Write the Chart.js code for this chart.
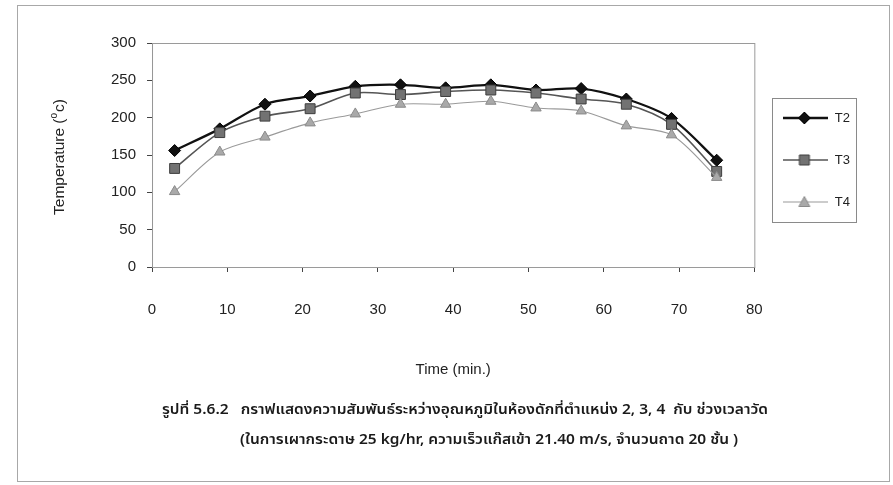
<!DOCTYPE html>
<html>
<head>
<meta charset="utf-8">
<script src="https://cdn.jsdelivr.net/npm/chart.js@4/dist/chart.umd.min.js"></script>
<style>
  html, body { margin: 0; padding: 0; background: #fff; }
  #wrap { position: relative; width: 893px; height: 485px; overflow: hidden; }
  #frame { position: absolute; left: 17px; top: 5px; width: 873px; height: 477px; border: 1px solid #a8a8a8; box-sizing: border-box; }
  canvas { position: absolute; left: 0; top: 0; }
  .cap { position: absolute; font-family: "Noto Sans Thai", "Noto Sans", "Liberation Sans", sans-serif; font-size: 13.5px; font-weight: 600; color: #1a1a1a; white-space: nowrap; line-height: 18px; height: 18px; transform-origin: 0 50%; }
</style>
</head>
<body>
<div id="wrap">
  <div id="frame"></div>
  <canvas id="c" width="893" height="485"></canvas>
  <div class="cap" id="cap1" data-w="606" style="left:162px; top:401px;">รูปที่ 5.6.2&nbsp;&nbsp; กราฟแสดงความสัมพันธ์ระหว่างอุณหภูมิในห้องดักที่ตำแหน่ง 2, 3, 4&nbsp; กับ ช่วงเวลาวัด</div>
  <div class="cap" id="cap2" data-w="498" style="left:240px; top:431px;">(ในการเผากระดาษ 25 kg/hr, ความเร็วแก๊สเข้า 21.40 m/s, จำนวนถาด 20 ชั้น )</div>
</div>
<script>
// Measurement times (min.)
const timeMin = [3, 9, 15, 21, 27, 33, 39, 45, 51, 57, 63, 69, 75];
// Trap-chamber temperatures (°C) at positions 2, 3 and 4
const t2 = [156, 185, 218, 229, 242, 244, 240, 244, 237, 239, 225, 199, 143];
const t3 = [132, 180, 202, 212, 233, 231, 235, 237, 233, 225, 218, 191, 128];
const t4 = [101, 154, 174, 193, 205, 218, 218, 222, 213, 209, 189, 177, 120];
const seriesNames = ['T2', 'T3', 'T4'];
const xTicks = [0, 10, 20, 30, 40, 50, 60, 70, 80];
const yTicks = [0, 50, 100, 150, 200, 250, 300];

const FONT = '"Liberation Sans", Arial, sans-serif';

const styles = [
  { line: '#111111', fill: '#111111', edge: '#000000', width: 2.3, marker: 'rectRot', r: 6 },
  { line: '#555555', fill: '#727272', edge: '#3e3e3e', width: 1.6, marker: 'rect', r: 7 },
  { line: '#9a9a9a', fill: '#a9a9a9', edge: '#8a8a8a', width: 1.1, marker: 'triangle', r: 6 }
];

// legend swatch: a line segment with the series marker in its middle
function swatch(s) {
  const w = 45, h = 16, cx = 21, cy = 8;
  const c = document.createElement('canvas');
  c.width = w; c.height = h;
  const g = c.getContext('2d');
  g.strokeStyle = s.line; g.lineWidth = s.width;
  g.beginPath(); g.moveTo(0, cy); g.lineTo(w, cy); g.stroke();
  g.fillStyle = s.fill; g.strokeStyle = s.edge; g.lineWidth = 1;
  g.beginPath();
  if (s.marker === 'rectRot') {
    g.moveTo(cx, cy - 6); g.lineTo(cx + 6, cy); g.lineTo(cx, cy + 6); g.lineTo(cx - 6, cy); g.closePath();
  } else if (s.marker === 'rect') {
    g.rect(cx - 5, cy - 5, 10, 10);
  } else {
    g.moveTo(cx, cy - 5.5); g.lineTo(cx + 5.5, cy + 4.5); g.lineTo(cx - 5.5, cy + 4.5); g.closePath();
  }
  g.fill(); g.stroke();
  return c;
}

const values = [t2, t3, t4];
const datasets = values.map((vals, i) => ({
  label: seriesNames[i],
  data: vals.map((v, k) => ({ x: timeMin[k], y: v })),
  borderColor: styles[i].line,
  borderWidth: styles[i].width,
  backgroundColor: styles[i].fill,
  pointStyle: styles[i].marker,
  pointRadius: styles[i].r,
  pointBorderColor: styles[i].edge,
  pointBackgroundColor: styles[i].fill,
  pointBorderWidth: 1,
  tension: 0.3,
  fill: false,
  order: 3 - i
}));

// plot-area outline and legend frame
const frames = {
  id: 'frames',
  beforeDatasetsDraw(chart) {
    const { ctx, chartArea: a } = chart;
    ctx.save();
    ctx.strokeStyle = '#9a9a9a';
    ctx.lineWidth = 1;
    ctx.strokeRect(a.left + 0.5, a.top + 0.5, a.right - a.left, a.bottom - a.top);
    ctx.restore();
  },
  afterDraw(chart) {
    const lg = chart.legend;
    if (!lg || !lg.legendHitBoxes || !lg.legendHitBoxes.length) return;
    const hb = lg.legendHitBoxes;
    const left = Math.min(...hb.map(h => h.left)) - 11;
    const right = Math.max(...hb.map(h => h.left + h.width)) + 6;
    const top = hb[0].top - 14;
    const bottom = hb[hb.length - 1].top + hb[hb.length - 1].height + 13;
    const ctx = chart.ctx;
    ctx.save();
    ctx.strokeStyle = '#8a8a8a';
    ctx.lineWidth = 1;
    ctx.strokeRect(Math.round(left) + 0.5, Math.round(top) + 0.5, Math.round(right - left), Math.round(bottom - top));
    ctx.restore();
  }
};

// vertical axis title with a superscript degree mark
const yTitle = {
  id: 'yTitle',
  afterDraw(chart) {
    const { ctx, chartArea: a } = chart;
    const main = '15.5px ' + FONT, sup = '10px ' + FONT;
    const p1 = 'Temperature (', p2 = 'o', p3 = 'c)';
    ctx.save();
    ctx.font = main; const w1 = ctx.measureText(p1).width, w3 = ctx.measureText(p3).width;
    ctx.font = sup; const w2 = ctx.measureText(p2).width + 1;
    const total = w1 + w2 + w3;
    ctx.translate(60, (a.top + a.bottom) / 2 + 2);
    ctx.rotate(-Math.PI / 2);
    ctx.fillStyle = '#222';
    ctx.textBaseline = 'middle';
    ctx.textAlign = 'left';
    let x = -total / 2;
    ctx.font = main; ctx.fillText(p1, x, 0); x += w1;
    ctx.font = sup; ctx.fillText(p2, x, -6); x += w2;
    ctx.font = main; ctx.fillText(p3, x, 0);
    ctx.restore();
  }
};

new Chart(document.getElementById('c'), {
  type: 'line',
  data: { datasets },
  options: {
    responsive: false,
    animation: false,
    layout: { padding: { left: 100, right: 33, top: 43, bottom: 106 } },
    scales: {
      x: {
        type: 'linear',
        min: xTicks[0],
        max: xTicks[xTicks.length - 1],
        afterBuildTicks(scale) { scale.ticks = xTicks.map(v => ({ value: v })); },
        ticks: { color: '#222', font: { family: FONT, size: 15 }, padding: 29, maxRotation: 0, autoSkip: false },
        grid: { display: true, drawOnChartArea: false, drawTicks: true, tickLength: 5, tickColor: '#444' },
        border: { display: true, color: '#333', width: 1 },
        title: { display: true, text: 'Time (min.)', color: '#222', font: { family: FONT, size: 15 }, padding: { top: 13, bottom: 0 } }
      },
      y: {
        type: 'linear',
        min: yTicks[0],
        max: yTicks[yTicks.length - 1],
        afterBuildTicks(scale) { scale.ticks = yTicks.map(v => ({ value: v })); },
        ticks: { color: '#222', font: { family: FONT, size: 15 }, padding: 11, autoSkip: false },
        grid: { display: true, drawOnChartArea: false, drawTicks: true, tickLength: 5, tickColor: '#444' },
        border: { display: true, color: '#333', width: 1 }
      }
    },
    plugins: {
      legend: {
        position: 'right',
        align: 'start',
        fullSize: false,
        title: { display: true, text: '', font: { size: 10, lineHeight: 1 }, padding: { top: 29.5, bottom: 0 } },
        labels: {
          usePointStyle: true,
          pointStyleWidth: 45,
          padding: 29,
          color: '#222',
          font: { family: FONT, size: 13 },
          generateLabels(chart) {
            return chart.data.datasets.map((ds, i) => ({
              text: ds.label,
              pointStyle: swatch(styles[i]),
              fillStyle: styles[i].fill,
              strokeStyle: styles[i].line,
              lineWidth: 0,
              hidden: false,
              datasetIndex: i,
              fontColor: '#222'
            }));
          }
        }
      },
      tooltip: { enabled: false }
    }
  },
  plugins: [frames, yTitle]
});

// stretch each caption line horizontally to its set width
function fitCaptions() {
  document.querySelectorAll('.cap').forEach(el => {
    el.style.transform = 'none';
    const w = el.getBoundingClientRect().width;
    const target = parseFloat(el.dataset.w);
    if (w > 0) el.style.transform = 'scaleX(' + (target / w).toFixed(4) + ')';
  });
}
fitCaptions();
if (document.fonts && document.fonts.ready) document.fonts.ready.then(fitCaptions);
</script>
</body>
</html>
